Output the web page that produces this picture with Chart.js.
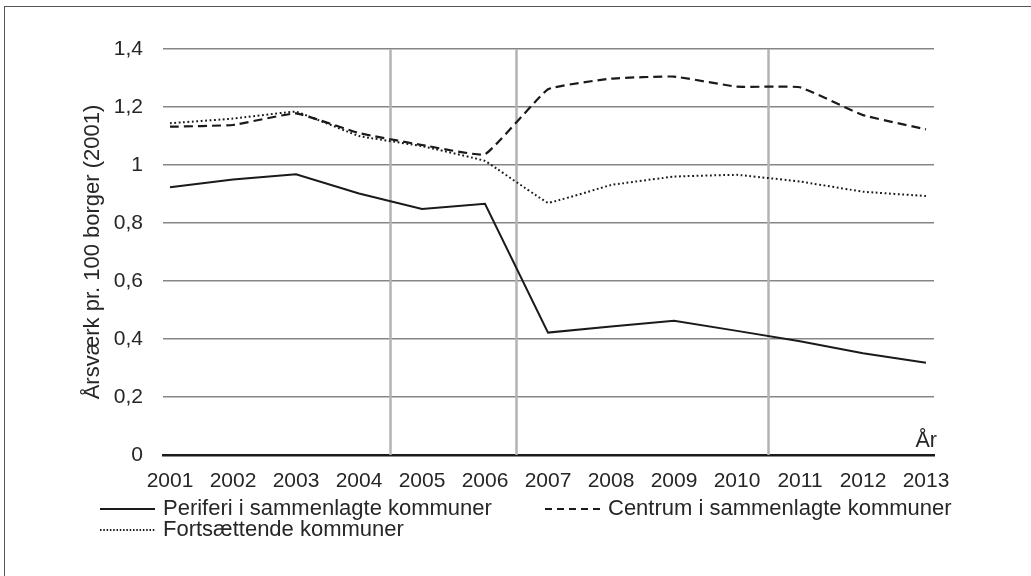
<!DOCTYPE html>
<html>
<head>
<meta charset="utf-8">
<script src="https://cdn.jsdelivr.net/npm/chart.js@4.4.1/dist/chart.umd.min.js"></script>
<style>
  html, body { margin: 0; padding: 0; background: #fff; overflow: hidden; }
  #wrap { position: relative; width: 1031px; height: 576px; }
  #frame { position: absolute; left: 4px; top: 6px; width: 1040px; height: 590px; border: 1px solid #555; box-sizing: border-box; pointer-events: none; }
  canvas { position: absolute; left: 0; top: 0; }
</style>
</head>
<body>
<div id="wrap">
  <canvas id="chart" width="1031" height="576"></canvas>
  <div id="frame"></div>
</div>
<script>
// År (x-aksen)
const years = [2001, 2002, 2003, 2004, 2005, 2006, 2007, 2008, 2009, 2010, 2011, 2012, 2013];

// Årsværk pr. 100 borger (indeks 2001)
const periferi = [0.923, 0.95, 0.968, 0.902, 0.848, 0.866, 0.422, 0.443, 0.463, 0.428, 0.392, 0.351, 0.318];
const centrum = [1.132, 1.138, 1.178, 1.11, 1.069, 1.037, 1.261, 1.298, 1.305, 1.27, 1.268, 1.172, 1.123];
const fortsaettende = [1.144, 1.16, 1.184, 1.10, 1.065, 1.014, 0.870, 0.931, 0.96, 0.966, 0.943, 0.908, 0.893];

const seriesLabels = [
  "Periferi i sammenlagte kommuner",
  "Centrum i sammenlagte kommuner",
  "Fortsættende kommuner",
];

// lodrette skillelinjer mellem årene
const dividers = [2004.5, 2006.5, 2010.5];

const yTicks = [0, 0.2, 0.4, 0.6, 0.8, 1, 1.2, 1.4];

const FONT = "'Liberation Sans', Arial, sans-serif";
const TEXT = "#262626";

function toPoints(values) {
  return values.map((v, i) => ({ x: years[i], y: v }));
}

// Tegner de grå lodrette linjer
const dividerPlugin = {
  id: "dividers",
  beforeDatasetsDraw(chart) {
    const { ctx, chartArea, scales } = chart;
    ctx.save();
    ctx.strokeStyle = "#b3b3b3";
    ctx.lineWidth = 2.5;
    dividers.forEach((d) => {
      const x = scales.x.getPixelForValue(d);
      ctx.beginPath();
      ctx.moveTo(x, chartArea.top);
      ctx.lineTo(x, chartArea.bottom);
      ctx.stroke();
    });
    ctx.restore();
  },
};

// "År" ved aksen + forklaring nederst
const extrasPlugin = {
  id: "extras",
  afterDraw(chart) {
    const { ctx, chartArea } = chart;
    ctx.save();
    ctx.font = "21.5px " + FONT;
    ctx.fillStyle = TEXT;
    ctx.textAlign = "right";
    ctx.textBaseline = "alphabetic";
    ctx.fillText("År", chartArea.right + 3, chartArea.bottom - 8);

    // forklaring: [x, y] for hvert element
    const spots = [[100, 509], [545, 509], [100, 530]];
    ctx.font = "22px " + FONT;
    ctx.textAlign = "left";
    ctx.textBaseline = "middle";
    chart.data.datasets.forEach((ds, i) => {
      const [x, y] = spots[i];
      ctx.beginPath();
      ctx.strokeStyle = ds.borderColor;
      ctx.lineWidth = ds.borderWidth;
      ctx.setLineDash(ds.legendDash || ds.borderDash || []);
      ctx.moveTo(x, y);
      ctx.lineTo(x + 55, y);
      ctx.stroke();
      ctx.setLineDash([]);
      ctx.fillText(ds.label, x + 63, y);
    });
    ctx.restore();
  },
};

const ctx = document.getElementById("chart").getContext("2d");
const myChart = new Chart(ctx, {
  type: "line",
  data: {
    datasets: [
      {
        label: seriesLabels[0],
        data: toPoints(periferi),
        borderColor: "#1a1a1a",
        borderWidth: 2,
        pointRadius: 0,
        tension: 0,
      },
      {
        label: seriesLabels[1],
        data: toPoints(centrum),
        borderColor: "#1a1a1a",
        borderWidth: 2.2,
        borderDash: [9, 5],
        legendDash: [7, 5],
        pointRadius: 0,
        tension: 0.1,
      },
      {
        label: seriesLabels[2],
        data: toPoints(fortsaettende),
        borderColor: "#1a1a1a",
        borderWidth: 2,
        borderDash: [1.8, 2.6],
        legendDash: [1.5, 1.8],
        pointRadius: 0,
        tension: 0.05,
      },
    ],
  },
  options: {
    responsive: false,
    animation: false,
    layout: { padding: { left: 0, top: 49, right: 97, bottom: 81 } },
    plugins: {
      legend: { display: false },
      tooltip: { enabled: false },
    },
    scales: {
      x: {
        type: "linear",
        min: 2001 - 7 / 63,
        max: 2013 + 8 / 63,
        afterBuildTicks(scale) {
          scale.ticks = years.map((y) => ({ value: y }));
        },
        afterFit(scale) {
          scale.height = 40;
        },
        grid: { display: false, drawTicks: false },
        border: { display: true, color: "#1a1a1a", width: 2.5 },
        ticks: {
          color: TEXT,
          font: { family: FONT, size: 21 },
          padding: 14,
          maxRotation: 0,
          autoSkip: false,
          callback: (v) => String(v),
        },
      },
      y: {
        min: 0,
        max: 1.4,
        afterBuildTicks(scale) {
          scale.ticks = yTicks.map((v) => ({ value: v }));
        },
        afterFit(scale) {
          scale.width = 163;
        },
        grid: { color: "#858585", lineWidth: 1.5, drawTicks: false },
        border: { display: false },
        ticks: {
          color: TEXT,
          font: { family: FONT, size: 21 },
          padding: 20,
          callback: (v) => String(Math.round(v * 10) / 10).replace(".", ","),
        },
        title: {
          display: true,
          text: "Årsværk pr. 100 borger (2001)",
          color: TEXT,
          font: { family: FONT, size: 22 },
          padding: { top: 80, bottom: 0 },
        },
      },
    },
  },
  plugins: [dividerPlugin, extrasPlugin],
});
</script>
</body>
</html>
